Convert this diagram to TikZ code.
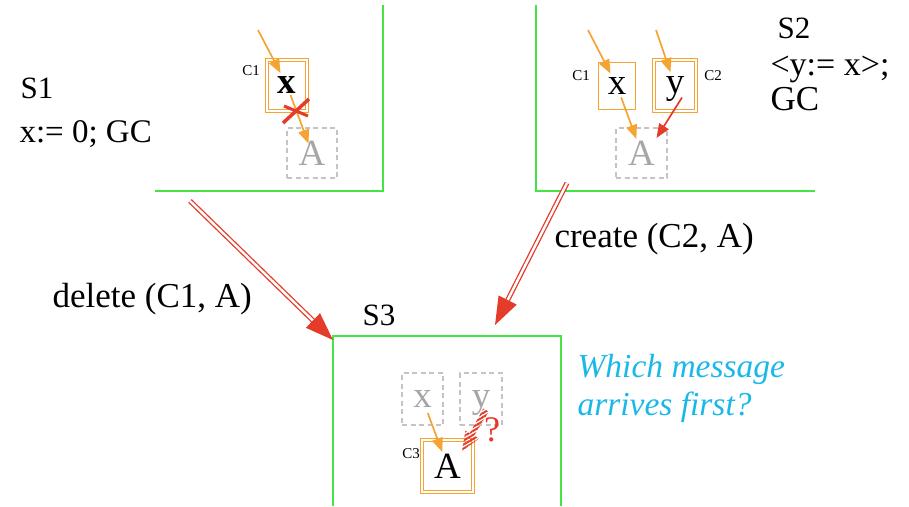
\documentclass[tikz,border=0pt]{standalone}
\usepackage{fontspec}
\setmainfont{Liberation Serif}
\usetikzlibrary{arrows.meta, calc, patterns.meta}
\definecolor{FrameGreen}{HTML}{44E444}
\definecolor{RefOrange}{HTML}{F5A332}
\definecolor{MsgRed}{HTML}{E53B2A}
\definecolor{AskCyan}{HTML}{1AB8E8}
\definecolor{GoneGray}{HTML}{A6A6A6}
\definecolor{DashGray}{HTML}{C4C4C4}
\newcommand{\fsz}[1]{\fontsize{#1}{#1}\selectfont}

\begin{document}
\begin{tikzpicture}[x=1pt, y=-1pt,
    frameline/.style={FrameGreen, line width=2pt},
    obj/.style={draw=RefOrange, line width=1.3pt, inner sep=0pt, font=\fsz{37}},
    objroot/.style={obj, double=white, double distance=1.8pt, line width=1.2pt},
    gone/.style={draw=DashGray, dash pattern=on 5pt off 3.5pt, line width=1.8pt,
        inner sep=0pt, text=GoneGray, font=\fsz{37}},
    refarrow/.style={RefOrange, line width=1.7pt, -{Triangle[length=14pt,width=11pt]}},
    newref/.style={refarrow, MsgRed},
    msg/.style={MsgRed, line width=1.3pt, double=white, double distance=2.4pt,
        -{Triangle[length=28pt,width=20pt]}},
    cid/.style={font=\fsz{15}, anchor=base},
    sname/.style={font=\fsz{31}, anchor=base west},
    txt/.style={font=\fsz{35}, anchor=base west}]
    \useasboundingbox (0,0) rectangle (909,506);

    % Frames of the three sites
    \draw[frameline] (383,5) -- (383,191) -- (155,191);
    \draw[frameline] (536,5) -- (536,191) -- (815,191);
    \draw[frameline] (333,506) -- (333,336) -- (561,336) -- (561,506);

    % Site labels and actions
    \node[sname] (s1) at (17,98) {S1};
    \node[txt, font=\fsz{33}] (s1code) at (16,142) {x:= 0; GC};
    \node[sname] (s2) at (774,38) {S2};
    \node[txt, font=\fsz{34}] (s2code) at (767,75) {<y:= x>;};
    \node[txt] (s2gc) at (767,110) {GC};
    \node[sname] (s3) at (359,325) {S3};

    % S1: root x drops its reference to A
    \node[objroot, minimum width=39.6pt, minimum height=50.6pt] (x1) at (287,85.5) {\textbf{x}};
    \node[cid] (c1a) at (251,75) {C1};
    \node[gone, minimum width=50pt, minimum height=50pt] (a1) at (312,153) {A};
    \coordinate (in1) at (258,30);
    \draw[refarrow, shorten >=14pt] (in1) -- (x1.center);
    \draw[refarrow, shorten <=10pt, shorten >=10pt] (x1.center) -- (a1.center);
    \draw[MsgRed, line width=3.5pt] (283,123) -- (309,99);
    \draw[MsgRed, line width=3pt] (284,106) -- (308,116);

    % S2: y gets a copy of the reference
    \node[obj, minimum width=36.7pt, minimum height=46.7pt] (x2) at (617,86) {x};
    \node[objroot, minimum width=41.6pt, minimum height=50.6pt, text depth=0pt] (y2) at (675,85.5) {y};
    \node[cid] (c1b) at (581,80) {C1};
    \node[cid] (c2) at (713,80) {C2};
    \node[gone, minimum width=51pt, minimum height=50pt] (a2) at (641.5,153) {A};
    \coordinate (in2x) at (588,30);
    \coordinate (in2y) at (656,30);
    \draw[refarrow, shorten >=14pt] (in2x) -- (x2.center);
    \draw[refarrow, shorten >=14pt] (in2y) -- (y2.center);
    \draw[refarrow, shorten <=12pt, shorten >=15pt] (x2.center) -- (a2.center);
    \draw[newref] ($(y2.center)+(7,12)$) -- ($(a2.center)+(15,-15)$);

    % S3: owner of A
    \node[gone, minimum width=41pt, minimum height=52pt] (x3) at (422.5,399) {x};
    \node[gone, minimum width=42pt, minimum height=52pt, text depth=0pt] (y3) at (481,399) {y};
    \node[objroot, minimum width=50.6pt, minimum height=51.6pt] (a3) at (447.5,466) {A};
    \node[cid] (c3) at (411,458) {C3};
    \draw[refarrow, shorten <=15pt, shorten >=15pt] (x3.center) -- (a3.center);
    \fill[pattern={Lines[angle=30,distance=3.5pt,line width=2pt]}, pattern color=MsgRed]
        (483.3,408.5) -- (469.8,433.2) -- (465.4,430.6) -- (462,451)
        -- (479.1,438.4) -- (474.2,435.6) -- (488.7,411.6) -- cycle;
    \node[text=MsgRed, font=\fsz{36}] (ask) at (492,430) {?};

    % Messages
    \coordinate (s1out) at (190,201);
    \coordinate (s3corner) at (333,340);
    \coordinate (s2out) at (567,183);
    \coordinate (s3top) at (495,325);
    \draw[msg] (s1out) -- (s3corner);
    \draw[msg] (s2out) -- (s3top);
    \node[txt] (del) at (49,307) {delete (C1, A)};
    \node[txt] (cre) at (551,247) {create (C2, A)};

    \node[txt, font={\fsz{33.5}\itshape}, text=AskCyan] (q1) at (574,377) {Which message};
    \node[txt, font={\fsz{33.5}\itshape}, text=AskCyan] (q2) at (574,415) {arrives first?};
\end{tikzpicture}
\end{document}
